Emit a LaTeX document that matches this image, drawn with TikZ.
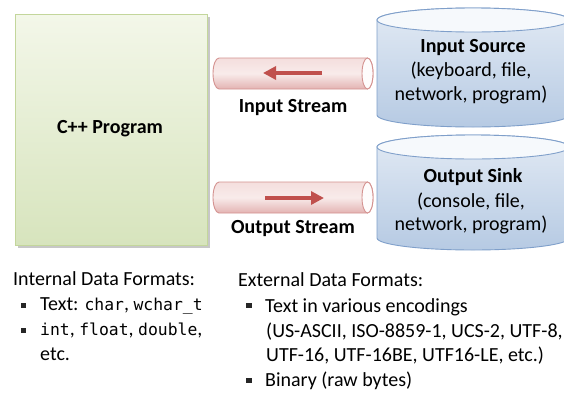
\documentclass[tikz,border=0pt]{standalone}
\usepackage{fontspec}
\setmainfont{Carlito}
\setmonofont{DejaVu Sans Mono}[Scale=0.82]
\usetikzlibrary{arrows.meta}
\definecolor{grnTop}{HTML}{F3F7E9}
\definecolor{grnBot}{HTML}{D7E4BD}
\definecolor{grnLine}{HTML}{C3D69B}
\definecolor{pinkTop}{HTML}{F4DEDD}
\definecolor{pinkBot}{HTML}{E3B3B2}
\definecolor{pinkLine}{HTML}{D49290}
\definecolor{arrRed}{HTML}{C0504D}
\definecolor{bluTop}{HTML}{E2EAF4}
\definecolor{bluBot}{HTML}{B6CAE3}
\definecolor{bluLine}{HTML}{7F9FCA}
\tikzset{
  lbl/.style={font=\fontsize{20}{24}\selectfont, inner sep=0pt},
  blbl/.style={font=\fontsize{20}{24}\selectfont\bfseries, inner sep=0pt},
  body/.style={font=\fontsize{20}{24}\selectfont, inner sep=0pt, anchor=base west},
  bul/.style={fill=black!85},
  tube/.style={draw=pinkLine, line width=0.9pt, top color=pinkTop, bottom color=pinkBot, middle color=pinkTop!60!white},
  tubeend/.style={draw=pinkLine, line width=0.9pt, fill=white!92!pinkTop},
  drum/.style={draw=bluLine, line width=0.9pt, top color=bluTop, bottom color=bluBot},
  drumtop/.style={draw=bluLine, line width=0.9pt, fill=white!70!bluTop},
  flow/.style={draw=arrRed, line width=4pt, -{Triangle[length=13pt,width=13pt]}},
}
\begin{document}
\begin{tikzpicture}[x=1pt,y=-1pt]
\clip (0,0) rectangle (564,394);
\fill[white] (0,0) rectangle (564,394);

% C++ program box
\fill[black!22] (18,17) rectangle (210,248);
\filldraw[draw=grnLine, line width=1pt, top color=grnTop, bottom color=grnBot] (15,14) rectangle (207,245);
\node[blbl, anchor=base] (prog) at (110,133) {C++ Program};

% Input stream tube
\path[tube] (367.5,58) -- (219,58) arc[start angle=-90, end angle=-270, x radius=6, y radius=15.5]
  -- (367.5,89) arc[start angle=90, end angle=-90, x radius=5.5, y radius=15.5] -- cycle;
\path[tubeend] (367.5,73.5) ellipse[x radius=5.5, y radius=15.5];
\coordinate (inA) at (322,73);
\coordinate (inB) at (263,73);
\draw[flow] (inA) -- (inB);
\node[blbl, anchor=base] (instream) at (293,112) {Input Stream};

% Output stream tube
\path[tube] (367.5,182) -- (219,182) arc[start angle=-90, end angle=-270, x radius=6, y radius=15.5]
  -- (367.5,213) arc[start angle=90, end angle=-90, x radius=5.5, y radius=15.5] -- cycle;
\path[tubeend] (367.5,197.5) ellipse[x radius=5.5, y radius=15.5];
\coordinate (outA) at (265,198);
\coordinate (outB) at (324,198);
\draw[flow] (outA) -- (outB);
\node[blbl, anchor=base] (outstream) at (293,233) {Output Stream};

% Input source drum
\path[drum] (377,20) -- (377,115) arc[start angle=180, end angle=0, x radius=96, y radius=12]
  -- (569,20) arc[start angle=0, end angle=-180, x radius=96, y radius=12] -- cycle;
\path[drumtop] (473,20) ellipse[x radius=96, y radius=12];
\node[blbl, anchor=base] (src1) at (473,52) {Input Source};
\node[lbl, anchor=base] (src2) at (471,76) {(keyboard, file,};
\node[lbl, anchor=base] (src3) at (471,100) {network, program)};

% Output sink drum
\path[drum] (377,147) -- (377,238) arc[start angle=180, end angle=0, x radius=96, y radius=12]
  -- (569,147) arc[start angle=0, end angle=-180, x radius=96, y radius=12] -- cycle;
\path[drumtop] (473,147) ellipse[x radius=96, y radius=12];
\node[blbl, anchor=base] (snk1) at (473,182) {Output Sink};
\node[lbl, anchor=base] (snk2) at (471,207) {(console, file,};
\node[lbl, anchor=base] (snk3) at (471,230) {network, program)};

% Internal formats
\node[body] (int0) at (13,285) {Internal Data Formats:};
\fill[bul] (21,303) rectangle (26,308);
\node[body] (int1) at (40,310) {Text: \texttt{char}, \texttt{wchar\_t}};
\fill[bul] (21,328) rectangle (26,333);
\node[body] (int2) at (40,335) {\texttt{int}, \texttt{float}, \texttt{double},};
\node[body] (int3) at (40,360) {etc.};

% External formats
\node[body] (ext0) at (238,286) {External Data Formats:};
\fill[bul] (246,303) rectangle (251.5,308);
\node[body] (ext1) at (265,312) {Text in various encodings};
\node[body] (ext2) at (266,337) {(US-ASCII, ISO-8859-1, UCS-2, UTF-8,};
\node[body] (ext3) at (266,361) {UTF-16, UTF-16BE, UTF16-LE, etc.)};
\fill[bul] (246,378) rectangle (251.5,383);
\node[body] (ext4) at (265,386) {Binary (raw bytes)};
\end{tikzpicture}
\end{document}
